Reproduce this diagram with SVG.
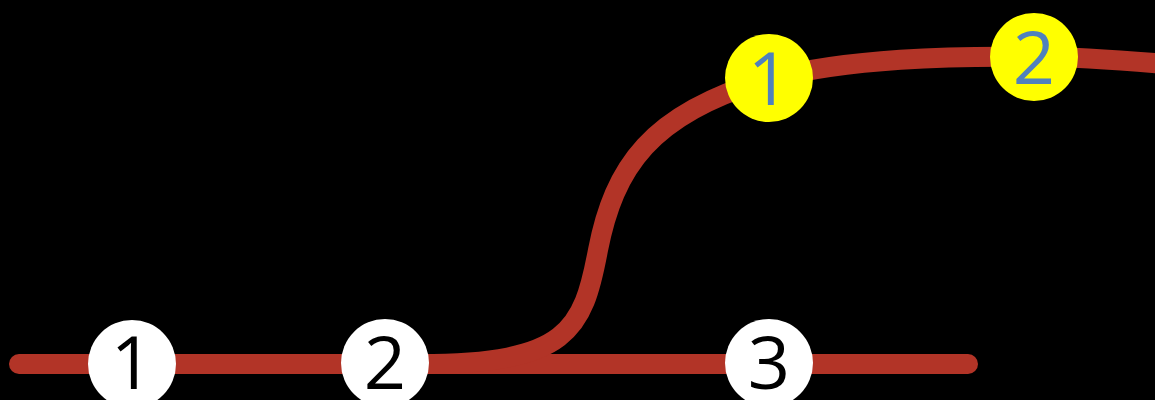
<svg xmlns="http://www.w3.org/2000/svg" width="1155" height="400" viewBox="0 0 1155 400">
<style>
.track{fill:none;stroke:#B23427;stroke-width:20;stroke-linecap:round}
.w{fill:#ffffff}
.y{fill:#ffff00}
.t{font-family:"Open Sans","Noto Sans",sans-serif;font-size:74px;text-anchor:middle}
.tb{fill:#000000}
.tl{fill:#4F81BD}
</style>
<rect width="1155" height="400" fill="#000000"/>
<g id="connectors">
<line class="track" x1="19" y1="364" x2="968" y2="364"/>
<path class="track" d="M 420 364 C 568 364 583 330 598 250 C 614 168 650 113 769 79 C 850 58 950 56 1034 57 C 1080 57 1120 60 1165 64" stroke-linecap="butt"/>
</g>
<g id="node-b1"><circle class="w" cx="132" cy="364" r="44"/><text class="t tb" x="132" y="389">1</text></g>
<g id="node-b2"><circle class="w" cx="385" cy="363" r="44"/><text class="t tb" x="385" y="389">2</text></g>
<g id="node-b3"><circle class="w" cx="769" cy="363" r="44"/><text class="t tb" x="769" y="389">3</text></g>
<g id="node-y1"><circle class="y" cx="769" cy="78" r="44"/><text class="t tl" x="769" y="105">1</text></g>
<g id="node-y2"><circle class="y" cx="1034" cy="57" r="44"/><text class="t tl" x="1034" y="84">2</text></g>
</svg>
